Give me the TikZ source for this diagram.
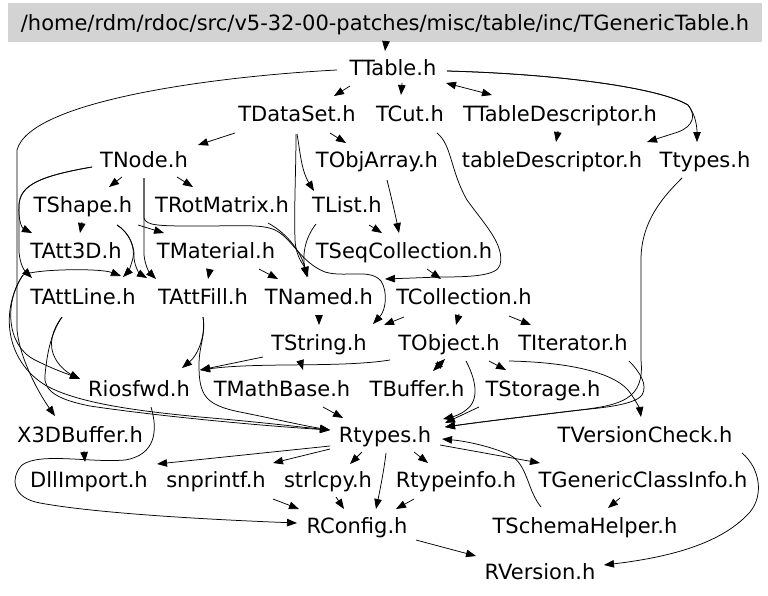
\documentclass[tikz,border=0pt]{standalone}
\usepackage{fontspec}
\setmainfont{DejaVu Sans}
\usetikzlibrary{arrows.meta,calc}
\definecolor{hdrgray}{RGB}{211,211,211}
\begin{document}
\begin{tikzpicture}[x=1pt,y=-1pt,
  nd/.style={font=\fontsize{21pt}{21pt}\selectfont, inner sep=0pt, text height=15.3pt, text depth=0pt, minimum height=36pt},
  hdrbox/.style={nd, fill=hdrgray, minimum width=754pt, minimum height=39pt},
  e/.style={line width=0.75pt, -{Triangle[length=10pt,width=7.5pt]}},
  e2/.style={line width=0.75pt, {Triangle[length=10pt,width=7.5pt]}-{Triangle[length=10pt,width=7.5pt]}}]
\useasboundingbox (0,0) rectangle (768,595);
\fill[white] (0,0) rectangle (768,595);
% nodes
\node[hdrbox] (hdr) at (385,22.5) {/home/rdm/rdoc/src/v5-32-00-patches/misc/table/inc/TGenericTable.h};
\node[nd] (TTable) at (393,68) {TTable.h};
\node[nd] (TDataSet) at (297,114) {TDataSet.h};
\node[nd] (TCut) at (410,114) {TCut.h};
\node[nd] (TTableDescriptor) at (560,114) {TTableDescriptor.h};
\node[nd] (TNode) at (144,160) {TNode.h};
\node[nd] (TObjArray) at (377,160) {TObjArray.h};
\node[nd] (tableDescriptor) at (552,160) {tableDescriptor.h};
\node[nd] (Ttypes) at (705,160) {Ttypes.h};
\node[nd] (TShape) at (83,205) {TShape.h};
\node[nd] (TRotMatrix) at (222,205) {TRotMatrix.h};
\node[nd] (TList) at (347,205) {TList.h};
\node[nd] (TAtt3D) at (76,251) {TAtt3D.h};
\node[nd] (TMaterial) at (216,251) {TMaterial.h};
\node[nd] (TSeqCollection) at (404,251) {TSeqCollection.h};
\node[nd] (TAttLine) at (83,297) {TAttLine.h};
\node[nd] (TAttFill) at (203,297) {TAttFill.h};
\node[nd] (TNamed) at (319,297) {TNamed.h};
\node[nd] (TCollection) at (464,297) {TCollection.h};
\node[nd] (TString) at (319,343) {TString.h};
\node[nd] (TObject) at (449,343) {TObject.h};
\node[nd] (TIterator) at (573,343) {TIterator.h};
\node[nd] (Riosfwd) at (139,389) {Riosfwd.h};
\node[nd] (TMathBase) at (282,389) {TMathBase.h};
\node[nd] (TBuffer) at (417,389) {TBuffer.h};
\node[nd] (TStorage) at (543,389) {TStorage.h};
\node[nd] (X3DBuffer) at (80,435) {X3DBuffer.h};
\node[nd] (Rtypes) at (385,435) {Rtypes.h};
\node[nd] (TVersionCheck) at (645,435) {TVersionCheck.h};
\node[nd] (DllImport) at (89,480) {DllImport.h};
\node[nd] (snprintf) at (216,480) {snprintf.h};
\node[nd] (strlcpy) at (328,480) {strlcpy.h};
\node[nd] (Rtypeinfo) at (456,480) {Rtypeinfo.h};
\node[nd] (TGenericClassInfo) at (643,480) {TGenericClassInfo.h};
\node[nd] (RConfig) at (357,526) {RConfig.h};
\node[nd] (TSchemaHelper) at (585,526) {TSchemaHelper.h};
\node[nd] (RVersion) at (540,572) {RVersion.h};
% edges
\draw[e] ($(hdr)+(1,18.5)$) -- ($(TTable)+(-8,-17)$);
\draw[e] ($(TTable)+(-43,18)$) -- ($(TDataSet)+(37,-18)$);
\draw[e] ($(TTable)+(9,15)$) -- ($(TCut)+(-9,-19)$);
\draw[e2] ($(TTable)+(53,15)$) -- ($(TTableDescriptor)+(-68,-19)$);
\draw[e] ($(TTable)+(54,3)$) .. controls (560,74) and (660,88) .. (688,105) .. controls (696,115) and (697,128) .. ($(Ttypes)+(-8,-18)$);
\draw[e] ($(TTable)+(54,3)$) .. controls (560,74) and (660,88) .. (688,105) .. controls (696,115) and (694,126) .. (678,132) -- ($(tableDescriptor)+(95,-18)$);
\draw[e] ($(TTableDescriptor)+(-2,17)$) -- ($(tableDescriptor)+(4,-18)$);
\draw[e] ($(TTable)+(-56,2)$) .. controls (220,76) and (30,100) .. (17,150) -- (17,330) .. controls (20,360) and (40,395) .. ($(X3DBuffer)+(-25,-19)$);
\draw[e] ($(TDataSet)+(-62,19)$) -- ($(TNode)+(54,-15)$);
\draw[e] ($(TDataSet)+(33,19)$) -- ($(TObjArray)+(-31,-17)$);
\draw[e] ($(TDataSet)+(0,20)$) .. controls (300,150) and (301,170) .. ($(TList)+(-33,-14)$);
\draw[e] ($(TDataSet)+(-1,20)$) .. controls (296,170) and (294,205) .. (295,240) .. controls (296,258) and (304,265) .. ($(TNamed)+(-11,-20)$);
\draw[e] ($(TNode)+(-22,17)$) -- ($(TShape)+(26,-18)$);
\draw[e] ($(TNode)+(33,17)$) -- ($(TRotMatrix)+(-29,-18)$);
\draw[e] ($(TNode)+(-52,7)$) .. controls (40,176) and (20,185) .. (19,205) .. controls (18,220) and (22,228) .. ($(TAtt3D)+(-44,-18)$);
\draw[e] ($(TNode)+(-52,7)$) .. controls (40,176) and (20,185) .. (19,205) -- (19,252) .. controls (20,264) and (24,270) .. ($(TAttLine)+(-51,-19)$);
\draw[e] ($(TNode)+(0,18)$) -- (144,255) .. controls (145,265) and (149,272) .. ($(TAttFill)+(-47,-18)$);
\draw[e] ($(TNode)+(0,18)$) -- (144,218) .. controls (146,226) and (160,226) .. (200,226) .. controls (240,226) and (262,224) .. (275,230) .. controls (292,238) and (300,262) .. (325,272) .. controls (345,278) and (370,268) .. (381,281) .. controls (388,292) and (386,310) .. ($(TString)+(54,-19)$);
\draw[e] ($(TRotMatrix)+(46,18)$) .. controls (290,235) and (302,255) .. ($(TNamed)+(-12,-20)$);
\draw[e] ($(TList)+(-31,19)$) .. controls (305,238) and (302,255) .. ($(TNamed)+(-12,-20)$);
\draw[e] ($(TList)+(22,20)$) -- ($(TSeqCollection)+(-22,-18)$);
\draw[e] ($(TObjArray)+(10,20)$) .. controls (392,200) and (396,218) .. ($(TSeqCollection)+(-5,-18)$);
\draw[e] ($(TShape)+(-1,17)$) -- ($(TAtt3D)+(4,-18)$);
\draw[e] ($(TShape)+(55,20)$) -- ($(TMaterial)+(-52,-18)$);
\draw[e] ($(TShape)+(34,20)$) .. controls (130,233) and (135,248) .. (133,258) .. controls (131,266) and (128,272) .. ($(TAttLine)+(40,-20)$);
\draw[e] ($(TShape)+(34,20)$) .. controls (130,233) and (135,248) .. (134,258) .. controls (135,268) and (140,274) .. ($(TAttFill)+(-56,-19)$);
\draw[e] ($(TAtt3D)+(-53,24)$) .. controls (35,269) and (100,268) .. ($(TAttLine)+(38,-21)$);
\draw[e] ($(TAtt3D)+(-53,24)$) .. controls (5,300) and (5,345) .. (35,360) .. controls (55,370) and (65,373) .. ($(Riosfwd)+(-59,-10)$);
\draw[e] ($(TAtt3D)+(-53,24)$) .. controls (0,310) and (5,360) .. (45,385) .. controls (80,405) and (150,412) .. (200,417) .. controls (260,422) and (300,427) .. ($(Rtypes)+(-55,-5)$);
\draw[e] ($(TAttLine)+(-21,20)$) .. controls (52,330) and (48,345) .. (55,358) .. controls (60,368) and (70,374) .. ($(Riosfwd)+(-59,-10)$);
\draw[e] ($(TAttLine)+(-21,20)$) .. controls (50,335) and (47,355) .. (45,375) .. controls (43,392) and (60,400) .. (90,406) .. controls (150,415) and (250,425) .. ($(Rtypes)+(-55,-5)$);
\draw[e] ($(TMaterial)+(-6,18)$) -- ($(TAttFill)+(5,-18)$);
\draw[e] ($(TMaterial)+(43,18)$) -- ($(TNamed)+(-41,-18)$);
\draw[e] ($(TSeqCollection)+(23,18)$) -- ($(TCollection)+(-23,-18)$);
\draw[e] ($(TCut)+(27,19)$) .. controls (452,145) and (450,170) .. (467,200) .. controls (485,225) and (505,245) .. (500,265) .. controls (497,276) and (470,277) .. (440,277) -- ($(TNamed)+(66,-18)$);
\draw[e] ($(TNamed)+(0,18)$) -- ($(TString)+(0,-18)$);
\draw[e] ($(TCollection)+(-60,20)$) -- ($(TString)+(65,-18)$);
\draw[e] ($(TCollection)+(-5,17)$) -- ($(TObject)+(7,-18)$);
\draw[e] ($(TCollection)+(45,19)$) -- ($(TIterator)+(-42,-18)$);
\draw[e] ($(TString)+(-56,14)$) -- ($(Riosfwd)+(61,-19)$);
\draw[e] ($(TString)+(-19,17)$) -- ($(TMathBase)+(21,-19)$);
\draw[e] ($(TObject)+(-59,17)$) .. controls (340,368) and (260,362) .. ($(Riosfwd)+(61,-19)$);
\draw[e] ($(TAttFill)+(0,20)$) .. controls (206,335) and (198,355) .. ($(Riosfwd)+(43,-21)$);
\draw[e] ($(TAttFill)+(0,20)$) .. controls (206,335) and (199,345) .. (199,365) .. controls (199,395) and (205,405) .. (240,412) .. controls (280,420) and (300,425) .. ($(Rtypes)+(-55,-5)$);
\draw[e2] ($(TObject)+(-4,16)$) -- ($(TBuffer)+(16,-18)$);
\draw[e] ($(TObject)+(40,18)$) -- ($(TStorage)+(-37,-19)$);
\draw[e] ($(TObject)+(17,18)$) .. controls (476,380) and (480,400) .. (466,410) .. controls (460,415) and (452,417) .. ($(Rtypes)+(58,-16)$);
\draw[e] ($(TStorage)+(-64,18)$) -- ($(Rtypes)+(60,-12)$);
\draw[e] ($(Ttypes)+(-23,18)$) .. controls (665,195) and (641,220) .. (641,260) -- (641,360) .. controls (645,400) and (620,405) .. (580,410) .. controls (530,416) and (480,422) .. ($(Rtypes)+(60,-8)$);
\draw[e] ($(TIterator)+(56,18)$) .. controls (640,372) and (648,385) .. (642,395) .. controls (635,405) and (600,408) .. (580,410) .. controls (530,416) and (480,422) .. ($(Rtypes)+(60,-8)$);
\draw[e] ($(TObject)+(60,18)$) .. controls (560,362) and (610,370) .. (628,390) .. controls (636,400) and (640,410) .. ($(TVersionCheck)+(-4,-18)$);
\draw[e] ($(TMathBase)+(41,18)$) -- ($(Rtypes)+(-42,-17)$);
\draw[e] ($(X3DBuffer)+(4,16)$) -- ($(DllImport)+(-4,-18)$);
\draw[e] ($(Riosfwd)+(12,18)$) .. controls (158,430) and (156,455) .. (125,460) .. controls (90,463) and (40,452) .. (22,465) .. controls (10,478) and (12,498) .. (40,503) .. controls (100,514) and (220,520) .. ($(RConfig)+(-60,-3)$);
\draw[e] ($(Rtypes)+(-55,11)$) -- ($(DllImport)+(68,-16)$);
\draw[e] ($(Rtypes)+(-55,14)$) -- ($(snprintf)+(57,-17)$);
\draw[e] ($(Rtypes)+(-23,17)$) -- ($(strlcpy)+(22,-16)$);
\draw[e] ($(Rtypes)+(29,17)$) -- ($(Rtypeinfo)+(-28,-17)$);
\draw[e] ($(Rtypes)+(55,10)$) -- ($(TGenericClassInfo)+(-103,-17)$);
\draw[e] ($(TSchemaHelper)+(-44,-19)$) .. controls (527,490) and (528,465) .. (510,455) .. controls (490,446) and (465,441) .. ($(Rtypes)+(57,4)$);
\draw[e] ($(TGenericClassInfo)+(-23,18)$) -- ($(TSchemaHelper)+(23,-18)$);
\draw[e] ($(snprintf)+(57,19)$) -- ($(RConfig)+(-58,-17)$);
\draw[e] ($(strlcpy)+(8,17)$) -- ($(RConfig)+(-13,-17)$);
\draw[e] ($(Rtypes)+(1,18)$) .. controls (384,470) and (380,490) .. ($(RConfig)+(19,-17)$);
\draw[e] ($(Rtypeinfo)+(-42,19)$) -- ($(RConfig)+(39,-17)$);
\draw[e] ($(RConfig)+(59,14)$) -- ($(RVersion)+(-64,-16)$);
\draw[e] ($(TVersionCheck)+(97,18)$) .. controls (760,468) and (764,495) .. (750,512) .. controls (725,540) and (680,556) .. ($(RVersion)+(64,-7)$);
\end{tikzpicture}
\end{document}
